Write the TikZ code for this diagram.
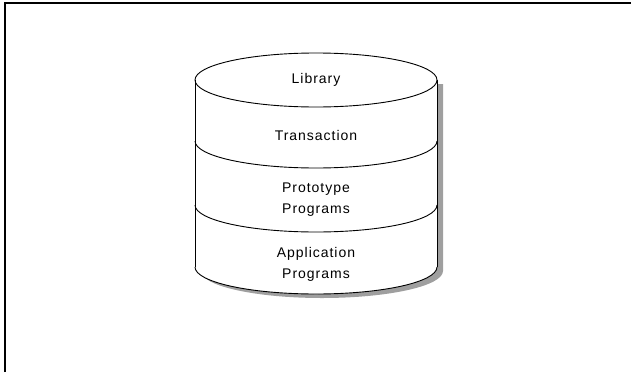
\documentclass[tikz,border=0pt]{standalone}
\usepackage{fontspec}
\setmainfont{Liberation Sans}
\newfontfamily\layerfont[LetterSpace=7]{Liberation Sans}

\tikzset{
  cylline/.style={line width=0.9pt},
  layerlabel/.style={font=\layerfont\fontsize{14}{21}\selectfont, align=center, inner sep=0pt}
}

\begin{document}
\begin{tikzpicture}[x=1pt,y=-1pt]

      \useasboundingbox (0,0) rectangle (631,372);
      \draw[line width=1.3pt] (5,372) -- (5,3) -- (631,3);

      % shadow
      \fill[gray!75, shift={(6,4)}] (195,80) -- (195,267)
        arc[start angle=180, end angle=0, x radius=121, y radius=27]
        -- (437,80) -- cycle;

      % body
      \fill[white] (195,80) -- (195,267)
        arc[start angle=180, end angle=0, x radius=121, y radius=27]
        -- (437,80)
        arc[start angle=0, end angle=-180, x radius=121, y radius=27] -- cycle;

      \begin{scope}[cylline]
        \draw (316,80) ellipse[x radius=121, y radius=27];
        \draw (195,80) -- (195,267);
        \draw (437,80) -- (437,267);
        \foreach \ylev in {141,205,267}
          \draw (195,\ylev) arc[start angle=180, end angle=0, x radius=121, y radius=27];
      \end{scope}

      \begin{scope}[every node/.style={layerlabel}]
        \node (library)     at (316,80)  {Library};
        \node (transaction) at (316,135) {Transaction};
        \node (prototype)   at (316,200) {Prototype\\Programs};
        \node (application) at (316,264) {Application\\Programs};
      \end{scope}

    \end{tikzpicture}
\end{document}
